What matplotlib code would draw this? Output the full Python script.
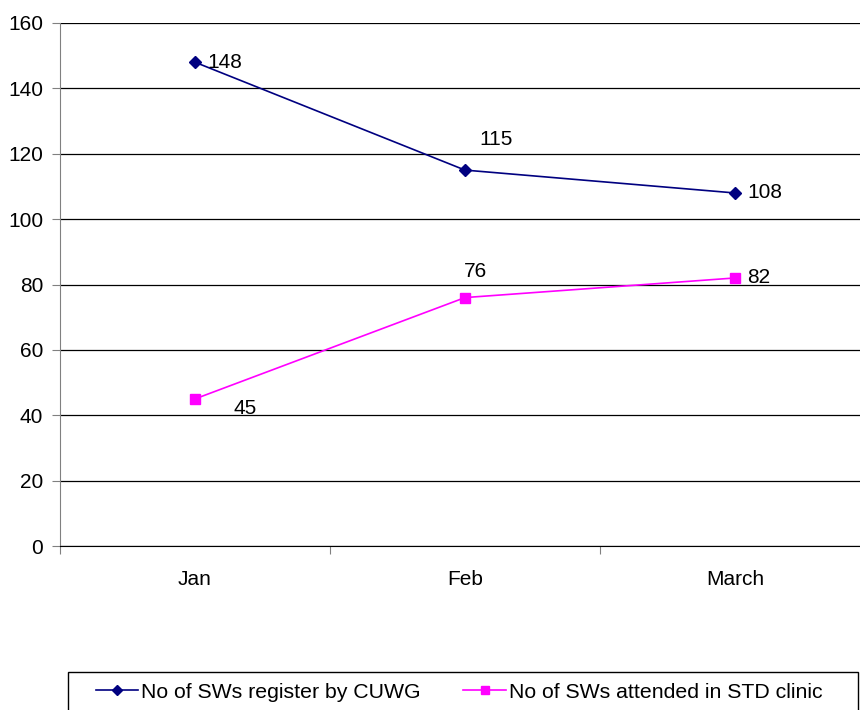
import matplotlib
matplotlib.use("Agg")
import matplotlib.pyplot as plt
from matplotlib.patches import Rectangle

months = ["Jan", "Feb", "March"]
registered = [148, 115, 108]
attended = [45, 76, 82]

plt.rcParams["font.family"] = ["Liberation Sans", "DejaVu Sans"]

W, H = 860, 710
fig = plt.figure(figsize=(W / 100, H / 100), dpi=100)
ax = fig.add_axes([60 / W, 1 - 546 / H, 810 / W, 523 / H])

x = list(range(len(months)))
ax.plot(x, registered, color="#000080", marker="D", markersize=6, lw=1.2,
        label="No of SWs register by CUWG")
ax.plot(x, attended, color="#FF00FF", marker="s", markersize=7, lw=1.2,
        label="No of SWs attended in STD clinic")

# data labels, placed like the original
fs = 15
ax.annotate("148", (0, 148), xytext=(9, 0), textcoords="offset points", va="center", fontsize=fs)
ax.annotate("115", (1, 115), xytext=(10, 22), textcoords="offset points", va="center", fontsize=fs)
ax.annotate("108", (2, 108), xytext=(9, 0), textcoords="offset points", va="center", fontsize=fs)
ax.annotate("45", (0, 45), xytext=(28, -7), textcoords="offset points", va="center", fontsize=fs)
ax.annotate("76", (1, 76), xytext=(-1, 19), textcoords="offset points", va="center", fontsize=fs)
ax.annotate("82", (2, 82), xytext=(9, 0), textcoords="offset points", va="center", fontsize=fs)

ax.set_xlim(-0.5, 2.5)
ax.set_ylim(0, 160)
ax.set_yticks(range(0, 161, 20))
ax.set_xticks([-0.5, 0.5, 1.5, 2.5])
ax.set_xticklabels([])
ax.set_xticks(x, minor=True)
ax.set_xticklabels(months, minor=True)
ax.tick_params(axis="x", which="minor", length=0, pad=17, labelsize=fs)
ax.tick_params(axis="x", which="major", length=6, direction="out", color="#808080")
ax.tick_params(axis="y", length=6, direction="out", color="#808080", labelsize=fs, pad=6)

ax.grid(axis="y", color="black", lw=0.9)
ax.set_axisbelow(True)
for s in ("top", "right"):
    ax.spines[s].set_visible(False)
ax.spines["left"].set_color("#808080")
ax.spines["bottom"].set_color("black")

# legend box runs off the bottom edge like the original
fig.patches.append(Rectangle((68 / W, 1 - 720 / H), 790 / W, 48 / H,
                             transform=fig.transFigure, fill=False,
                             edgecolor="black", lw=1.0))
fig.legend(loc="center left", bbox_to_anchor=(87 / W, 1 - 692 / H),
           ncol=2, fontsize=15.3, frameon=False, handlelength=2.0,
           handletextpad=0.15, columnspacing=2.0, borderaxespad=0,
           markerscale=0.85)

fig.savefig("out.png", dpi=100)
